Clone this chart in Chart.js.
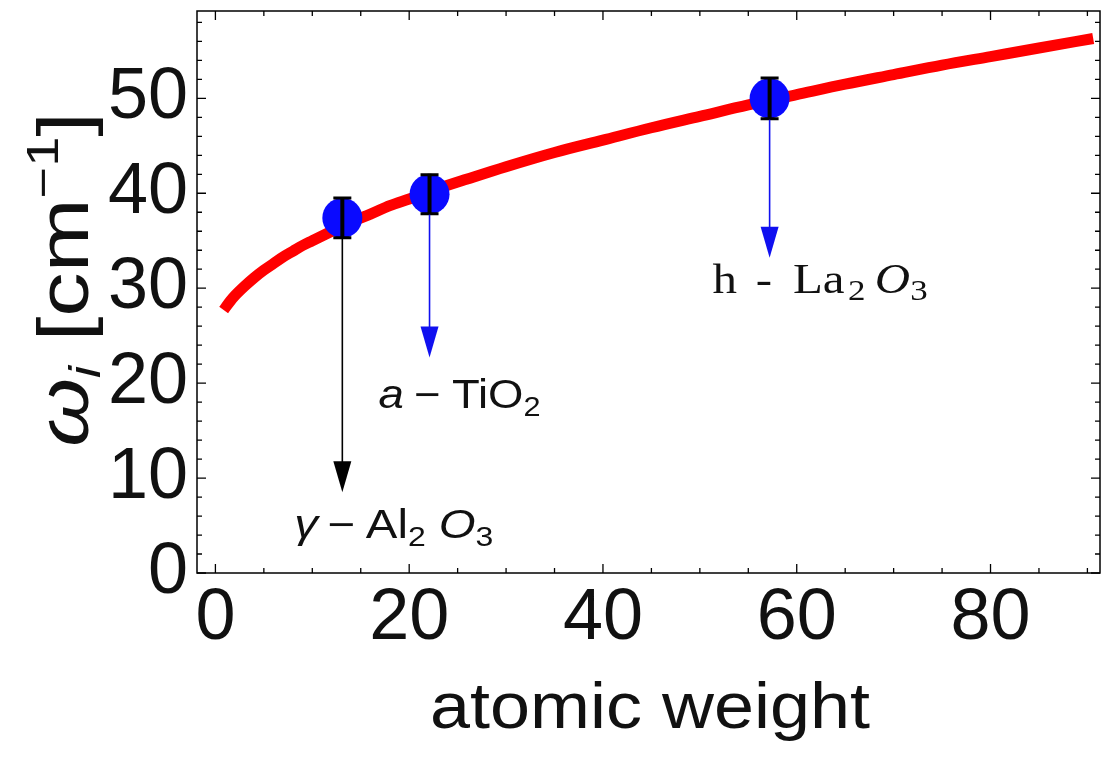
<!DOCTYPE html>
<html>
<head>
<meta charset="utf-8">
<script src="https://cdn.jsdelivr.net/npm/chart.js@4"></script>
<style>
  html, body { margin: 0; padding: 0; background: #fff; }
  #wrap { width: 1101px; height: 759px; }
</style>
</head>
<body>
<div id="wrap"><canvas id="chart"></canvas></div>
<script>
// fitted curve
const fitX = [0.85, 1.5, 2, 3, 4, 5, 6, 7, 8, 9, 10, 12, 14, 16, 18, 20, 23, 26, 30, 35, 40, 45, 50, 55, 60, 65, 70, 75, 80, 85, 90.6];
const fitY = [27.7, 28.6, 29.2, 30.2, 31.1, 31.9, 32.6, 33.3, 33.9, 34.5, 35.0, 36.0, 37.0, 37.8, 38.7, 39.4, 40.5, 41.5, 42.8, 44.3, 45.6, 46.9, 48.1, 49.3, 50.4, 51.5, 52.5, 53.5, 54.4, 55.3, 56.3];

// measured points
const compounds = ['γ-Al2O3', 'a-TiO2', 'h-La2O3'];
const weightX = [13.1, 22.1, 57.2];
const omegaY = [37.4, 39.9, 50.0];
const omegaErr = [2.2, 2.15, 2.25];
const arrowTip = [8.5, 22.7, 33.2];

const xTicks = [0, 20, 40, 60, 80];
const yTicks = [0, 10, 20, 30, 40, 50];

const SANS = 'Liberation Sans';
const SERIF = 'Liberation Serif';

// label pieces, one list per compound (gap = extra px before the piece)
const labelPieces = [
  [
    {t: 'γ', font: 'italic 40px ' + SANS},
    {t: '−', font: '40px ' + SANS, gap: 8},
    {t: 'Al', font: '40px ' + SANS, gap: 9},
    {t: '2', font: '27px ' + SANS, dy: 8},
    {t: 'O', font: 'italic 40px ' + SANS, gap: 11},
    {t: '3', font: '27px ' + SANS, dy: 8}
  ],
  [
    {t: 'a', font: 'italic 40px ' + SANS},
    {t: '−', font: '40px ' + SANS, gap: 9},
    {t: 'TiO', font: '40px ' + SANS, gap: 10},
    {t: '2', font: '27px ' + SANS, dy: 8}
  ],
  [
    {t: 'h', font: '42px ' + SERIF},
    {t: '-', font: '42px ' + SERIF, gap: 16},
    {t: 'La', font: '42px ' + SERIF, gap: 18},
    {t: '2', font: '30px ' + SERIF, dy: 7, gap: 3},
    {t: 'O', font: 'italic 42px ' + SERIF, gap: 8},
    {t: '3', font: '30px ' + SERIF, dy: 7}
  ]
];
// offset of label start / baseline from arrow (px), total width, arrow colour
const labelLayout = [
  {dx: -48, dy: 46, w: 199, color: '#000000'},
  {dx: -51, dy: 50, w: 162, color: '#1010f0'},
  {dx: -57, dy: 35, w: 215, color: '#1010f0'}
];

function drawPieces(ctx, pieces, x0, base, targetW) {
  let total = 0;
  pieces.forEach(p => { ctx.font = p.font; p.w = ctx.measureText(p.t).width; total += p.w + (p.gap || 0); });
  const sx = targetW ? targetW / total : 1;
  ctx.save();
  ctx.translate(x0, base);
  ctx.scale(sx, 1);
  ctx.textAlign = 'left';
  ctx.textBaseline = 'alphabetic';
  let x = 0;
  pieces.forEach(p => {
    x += p.gap || 0;
    ctx.font = p.font;
    ctx.fillText(p.t, x, p.dy || 0);
    x += p.w;
  });
  ctx.restore();
}

const framePlugin = {
  id: 'frame',
  afterDatasetsDraw(chart) {
    const ctx = chart.ctx;
    const xs = chart.scales.x, ys = chart.scales.y;
    ctx.save();
    // error bars
    ctx.strokeStyle = '#000';
    for (let i = 0; i < weightX.length; i++) {
      const px = xs.getPixelForValue(weightX[i]);
      const top = ys.getPixelForValue(omegaY[i] + omegaErr[i]);
      const bot = ys.getPixelForValue(omegaY[i] - omegaErr[i]);
      ctx.lineWidth = 4;
      ctx.beginPath(); ctx.moveTo(px, top); ctx.lineTo(px, bot); ctx.stroke();
      ctx.lineWidth = 3;
      ctx.beginPath();
      ctx.moveTo(px - 9, top + 1); ctx.lineTo(px + 9, top + 1);
      ctx.moveTo(px - 9, bot - 1); ctx.lineTo(px + 9, bot - 1);
      ctx.stroke();
    }
    // arrows and labels
    for (let i = 0; i < weightX.length; i++) {
      const lay = labelLayout[i];
      const px = xs.getPixelForValue(weightX[i]);
      const start = ys.getPixelForValue(omegaY[i] - omegaErr[i]);
      const tip = ys.getPixelForValue(arrowTip[i]);
      ctx.strokeStyle = lay.color;
      ctx.fillStyle = lay.color;
      ctx.lineWidth = 1.6;
      ctx.beginPath(); ctx.moveTo(px, start); ctx.lineTo(px, tip - 25); ctx.stroke();
      ctx.beginPath();
      ctx.moveTo(px, tip); ctx.lineTo(px - 9, tip - 31); ctx.lineTo(px + 9, tip - 31);
      ctx.closePath(); ctx.fill();
      ctx.fillStyle = '#111';
      drawPieces(ctx, labelPieces[i], px + lay.dx, tip + lay.dy, lay.w);
    }
    ctx.restore();
  },
  afterDraw(chart) {
    const ctx = chart.ctx;
    const a = chart.chartArea;
    const xs = chart.scales.x, ys = chart.scales.y;
    ctx.save();
    ctx.strokeStyle = '#000';
    ctx.lineWidth = 1.5;
    ctx.strokeRect(a.left, a.top, a.right - a.left, a.bottom - a.top);
    ctx.lineWidth = 1.3;
    ctx.beginPath();
    for (let v = 0; v <= xs.max; v += 5) {
      const px = xs.getPixelForValue(v);
      const len = v % 20 === 0 ? 9 : 5;
      ctx.moveTo(px, a.bottom); ctx.lineTo(px, a.bottom - len);
      ctx.moveTo(px, a.top); ctx.lineTo(px, a.top + len);
    }
    for (let v = 0; v <= ys.max; v += 2) {
      const py = ys.getPixelForValue(v);
      const len = v % 10 === 0 ? 9 : 5;
      ctx.moveTo(a.left, py); ctx.lineTo(a.left + len, py);
      ctx.moveTo(a.right, py); ctx.lineTo(a.right - len, py);
    }
    ctx.stroke();

    // axis titles
    ctx.fillStyle = '#111';
    drawPieces(ctx, [{t: 'atomic weight', font: '64px ' + SANS}], 430, 728, 440);
    ctx.translate(88, 280);
    ctx.rotate(-Math.PI / 2);
    drawPieces(ctx, [
      {t: 'ω', font: 'italic 72px ' + SANS},
      {t: 'i', font: 'italic 44px ' + SANS, dy: 12},
      {t: ' [cm', font: '72px ' + SANS},
      {t: '−1', font: '44px ' + SANS, dy: -30},
      {t: ']', font: '72px ' + SANS}
    ], -167, 0, 335);
    ctx.restore();
  }
};

const noPad = s => { s.paddingTop = 0; s.paddingBottom = 0; s.paddingLeft = 0; s.paddingRight = 0; };

new Chart(document.getElementById('chart'), {
  type: 'scatter',
  data: {
    datasets: [
      {
        label: compounds.join(', '),
        data: weightX.map((x, i) => ({x: x, y: omegaY[i]})),
        pointRadius: 20,
        pointHoverRadius: 20,
        pointBackgroundColor: '#0a0aff',
        pointBorderWidth: 0,
        order: 0
      },
      {
        type: 'line',
        label: 'fit',
        data: fitX.map((x, i) => ({x: x, y: fitY[i]})),
        borderColor: '#ff0000',
        borderWidth: 11,
        borderCapStyle: 'butt',
        pointRadius: 0,
        cubicInterpolationMode: 'monotone',
        fill: false,
        order: 1
      }
    ]
  },
  options: {
    responsive: true,
    maintainAspectRatio: false,
    animation: false,
    layout: {autoPadding: false, padding: {top: 11, right: 1, left: 0, bottom: 0}},
    plugins: {
      legend: {display: false},
      tooltip: {enabled: false}
    },
    scales: {
      x: {
        type: 'linear',
        min: -1.9,
        max: 91.3,
        afterBuildTicks: s => { s.ticks = xTicks.map(v => ({value: v})); },
        afterFit: s => { s.height = 186; noPad(s); },
        grid: {display: false, drawTicks: false},
        border: {display: false},
        ticks: {color: '#111', font: {family: SANS, size: 72}, padding: 3, maxRotation: 0}
      },
      y: {
        type: 'linear',
        min: 0,
        max: 59.2,
        afterBuildTicks: s => { s.ticks = yTicks.map(v => ({value: v})); },
        afterFit: s => { s.width = 197; noPad(s); },
        grid: {display: false, drawTicks: false},
        border: {display: false},
        ticks: {color: '#111', font: {family: SANS, size: 72}, padding: 9}
      }
    }
  },
  plugins: [framePlugin]
});
</script>
</body>
</html>
